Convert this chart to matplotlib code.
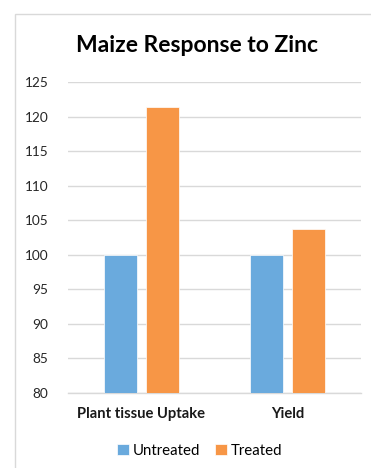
import numpy as np
import matplotlib.pyplot as plt
from matplotlib.patches import Rectangle

# Maize response to zinc, relative values (untreated = 100)
categories = ["Plant tissue Uptake", "Yield"]
untreated = [100, 100]
treated = [121.4, 103.7]
series_names = ["Untreated", "Treated"]
yticks = [80, 85, 90, 95, 100, 105, 110, 115, 120, 125]

blue = "#6aaadd"
orange = "#f79646"

plt.rcParams['font.family'] = ['Lato', 'DejaVu Sans']

fig = plt.figure(figsize=(3.71, 4.68), dpi=100)
W, H = 371, 468

# chart frame
fig.patches.append(Rectangle((15 / W, -0.1), 1.2, 1 - 14 / H + 0.1,
                             transform=fig.transFigure, fill=False,
                             edgecolor="#d9d9d9", linewidth=1.0))

ax = fig.add_axes([68 / W, 1 - 393 / H, (361 - 68) / W, (393 - 82) / H])

x = np.arange(len(categories))
bw = 0.225
gap = 0.06
ax.bar(x - (bw + gap) / 2, [v - 80 for v in untreated], bw, bottom=80,
       color=blue, edgecolor="white", linewidth=0.5, label=series_names[0], zorder=3)
ax.bar(x + (bw + gap) / 2, [v - 80 for v in treated], bw, bottom=80,
       color=orange, edgecolor="white", linewidth=0.5, label=series_names[1], zorder=3)

ax.set_xlim(-0.5, 1.5)
ax.set_ylim(80, 125)
ax.set_yticks(yticks)
ax.set_yticklabels([str(t) for t in yticks], fontsize=9.8, color="#262626")
ax.set_xticks(x)
ax.set_xticklabels(categories, fontsize=10.6, fontweight="bold", color="#1a1a1a")
ax.tick_params(axis="y", length=0, pad=14)
ax.tick_params(axis="x", length=0, pad=10)
ax.grid(axis="y", color="#d9d9d9", linewidth=1.0, zorder=0)
for s in ["top", "right", "left"]:
    ax.spines[s].set_visible(False)
ax.spines["bottom"].set_color("#d9d9d9")
ax.spines["bottom"].set_linewidth(1.0)

fig.text(197 / W, 1 - 46 / H, "Maize Response to Zinc", ha="center", va="center",
         fontsize=16.5, fontweight="bold", color="black")

fig.legend(loc="center", bbox_to_anchor=(200 / W, 1 - 451 / H), ncol=2,
           frameon=False, fontsize=10.8, handlelength=0.75, handleheight=0.75,
           columnspacing=1.0, handletextpad=0.3)

fig.savefig("out.png", dpi=100)
